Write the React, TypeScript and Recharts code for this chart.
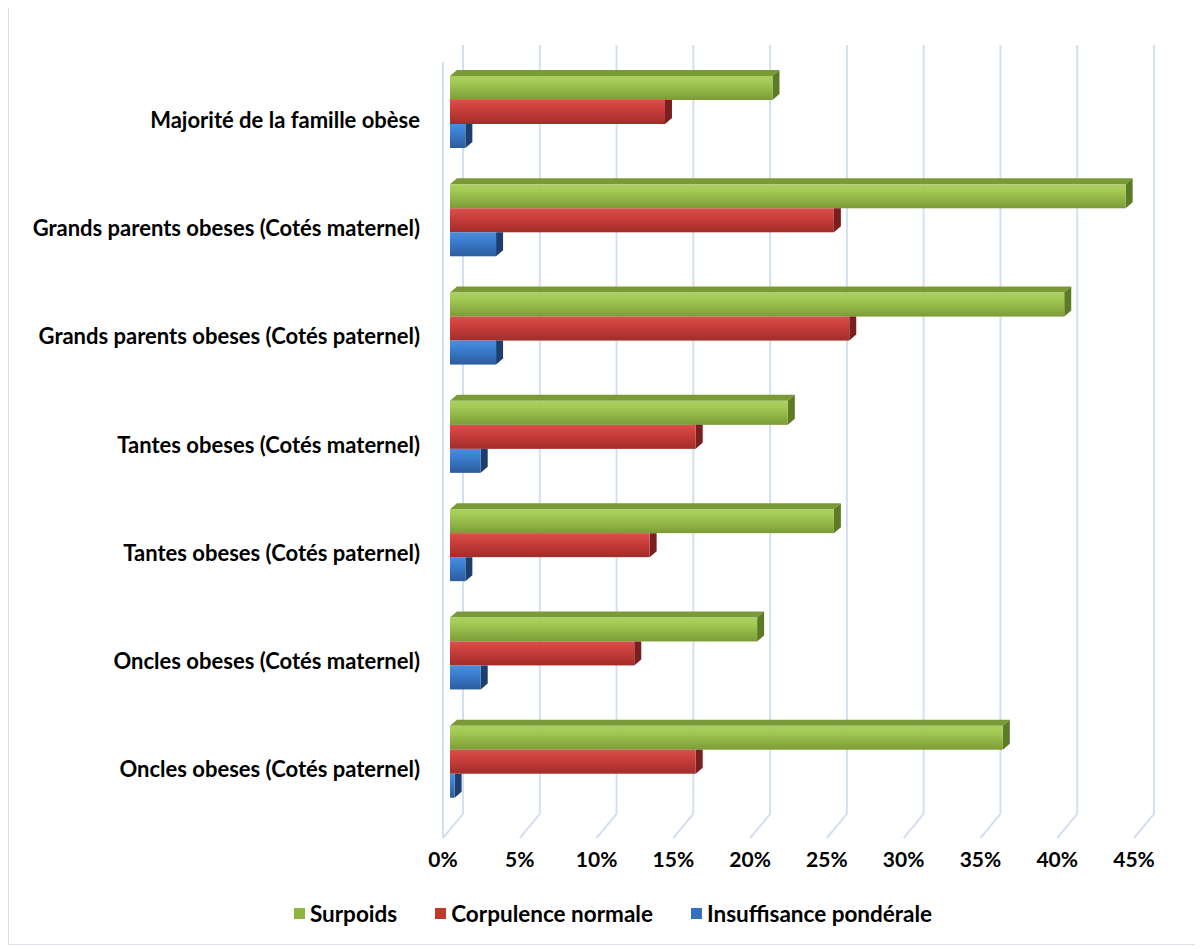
import { BarChart, Bar, XAxis, YAxis, CartesianGrid, Legend } from "recharts";

const categories = [
  "Majorité de la famille obèse",
  "Grands parents obeses (Cotés maternel)",
  "Grands parents obeses (Cotés paternel)",
  "Tantes obeses (Cotés maternel)",
  "Tantes obeses (Cotés paternel)",
  "Oncles obeses (Cotés maternel)",
  "Oncles obeses (Cotés paternel)",
];
const surpoids = [21, 44, 40, 22, 25, 20, 36];
const corpulence = [14, 25, 26, 16, 13, 12, 16];
const insuffisance = [1, 3, 3, 2, 1, 2, 0.3];
const xTicks = [0, 5, 10, 15, 20, 25, 30, 35, 40, 45];

const data = categories.map((name, i) => ({
  name,
  surpoids: surpoids[i],
  corpulence: corpulence[i],
  insuffisance: insuffisance[i],
}));

const FONT = "Lato, 'Open Sans', sans-serif";
const DX = 7;
const DY = -6;

const series = [
  { key: "surpoids", label: "Surpoids", hi: "#A4CB55", lo: "#7C9B36", top: "#7A9A37", side: "#5D7A25", chip: "#8DB544" },
  { key: "corpulence", label: "Corpulence normale", hi: "#D2433F", lo: "#A22C2A", top: "#B23431", side: "#7A1F1E", chip: "#C0392F" },
  { key: "insuffisance", label: "Insuffisance pondérale", hi: "#3F83D6", lo: "#2B5C9E", top: "#2F65AE", side: "#1E3F6E", chip: "#3470BE" },
];

function Box3D(props: any) {
  const { x, y, width, height, s, first } = props;
  const w = Math.max(width || 0, 0);
  const r = x + w;
  const sidePts = first
    ? `${r},${y} ${r + DX},${y + DY} ${r + DX},${y + height + DY} ${r},${y + height}`
    : `${r},${y} ${r + DX},${y} ${r + DX},${y + height + DY} ${r},${y + height}`;
  return (
    <g>
      {first && (
        <polygon
          points={`${x},${y} ${x + DX},${y + DY} ${r + DX},${y + DY} ${r},${y}`}
          fill={s.top}
        />
      )}
      <polygon points={sidePts} fill={s.side} />
      <rect x={x} y={y} width={w} height={height} fill={`url(#grad-${s.key})`} />
    </g>
  );
}

function GridLine(p: any) {
  const { x1, y1, y2, index } = p;
  const back = x1 + 13;
  const front = x1 - 7;
  return (
    <g key={`gl-${index}`}>
      <path
        d={`M${back},${y1 - 13} L${back},${y2 - 2} L${front},${y2 + 22}`}
        fill="none"
        stroke="#D4E0F0"
        strokeWidth={2}
      />
      {index === 0 && (
        <line x1={front} y1={y1 + 4} x2={front} y2={y2 + 22} stroke="#D4E0F0" strokeWidth={2} />
      )}
    </g>
  );
}

function XTick(p: any) {
  const { x, y, payload } = p;
  return (
    <text
      x={x - 7}
      y={y + 34}
      textAnchor="middle"
      dominantBaseline="central"
      fontFamily={FONT}
      fontWeight={700}
      fontSize={21}
      fill="#000"
    >
      {payload.value}%
    </text>
  );
}

function YTick(p: any) {
  const { y, payload } = p;
  return (
    <text
      x={411}
      y={y + 7}
      textAnchor="end"
      dominantBaseline="central"
      fontFamily={FONT}
      fontWeight={700}
      fontSize={22}
      fill="#000"
    >
      {payload.value}
    </text>
  );
}

function LegendBox() {
  return (
    <div
      style={{
        display: "flex",
        justifyContent: "center",
        gap: 38,
        paddingTop: 24,
        paddingLeft: 18,
        fontFamily: FONT,
        fontWeight: 700,
        fontSize: 22.5,
        color: "#000",
      }}
    >
      {series.map((s) => (
        <div key={s.key} style={{ display: "flex", alignItems: "center", gap: 5 }}>
          <span style={{ width: 11, height: 11, background: s.chip, display: "inline-block" }} />
          <span>{s.label}</span>
        </div>
      ))}
    </div>
  );
}

export default function App() {
  return (
    <div
      style={{
        width: 1190,
        height: 938,
        marginTop: -3,
        border: "1px solid #D9E1EA",
        background: "#fff",
      }}
    >
      <BarChart
        width={1190}
        height={938}
        data={data}
        layout="vertical"
        barSize={24}
        barGap={0}
        margin={{ top: 52, right: 58, bottom: 0, left: 0 }}
      >
        <defs>
          {series.map((s) => (
            <linearGradient key={s.key} id={`grad-${s.key}`} x1="0" y1="0" x2="0" y2="1">
              <stop offset="0%" stopColor={s.hi} stopOpacity={0.92} />
              <stop offset="25%" stopColor={s.hi} />
              <stop offset="100%" stopColor={s.lo} />
            </linearGradient>
          ))}
        </defs>
        <CartesianGrid horizontal={false} vertical={GridLine as any} />
        <XAxis
          type="number"
          domain={[0, 45]}
          ticks={xTicks}
          height={60}
          axisLine={false}
          tickLine={false}
          tick={XTick}
          interval={0}
        />
        <YAxis
          type="category"
          dataKey="name"
          width={441}
          axisLine={false}
          tickLine={false}
          tick={YTick}
          interval={0}
        />
        <Legend
          verticalAlign="bottom"
          height={68}
          wrapperStyle={{ left: 0, width: 1190 }}
          content={() => <LegendBox />}
        />
        {series.map((s, i) => (
          <Bar
            key={s.key}
            dataKey={s.key}
            name={s.label}
            isAnimationActive={false}
            shape={(p: any) => <Box3D {...p} s={s} first={i === 0} />}
          />
        ))}
      </BarChart>
    </div>
  );
}
